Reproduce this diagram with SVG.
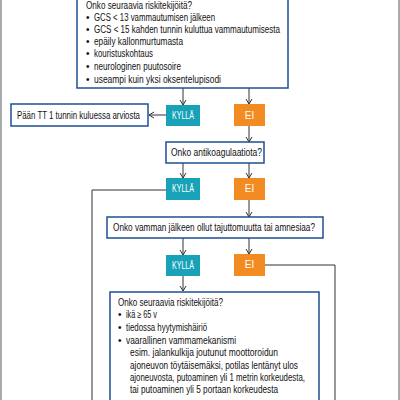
<svg xmlns="http://www.w3.org/2000/svg" width="400" height="400" viewBox="0 0 400 400">
<style>
.box{fill:#fff;stroke:#1f4f93;stroke-width:1.5}
.yes{fill:#17a2b8}
.no{fill:#f28b21}
.t{font-family:"Liberation Sans",Arial,sans-serif;font-size:10px;fill:#111}
.lbl{font-family:"Liberation Sans",Arial,sans-serif;font-size:10px;fill:#fff;text-anchor:middle}
.c{fill:none;stroke:#333;stroke-width:1}
.frame{stroke:#aaa;stroke-width:2}
</style>
<defs>
<marker id="ah" markerWidth="8" markerHeight="8" refX="6" refY="4" orient="auto" markerUnits="userSpaceOnUse">
<path d="M1,1 L6,4 L1,7" fill="none" stroke="#333" stroke-width="1"/>
</marker>
</defs>
<rect width="400" height="400" fill="#fff"/>
<line class="frame" x1="1" y1="0" x2="1" y2="400"/>
<line class="frame" x1="399" y1="0" x2="399" y2="400"/>

<g id="connectors">
<line class="c" x1="183" y1="88" x2="183" y2="105" marker-end="url(#ah)"/>
<line class="c" x1="249" y1="88" x2="249" y2="104" marker-end="url(#ah)"/>
<line class="c" x1="166" y1="115" x2="149" y2="115" marker-end="url(#ah)"/>
<line class="c" x1="249" y1="126" x2="249" y2="142" marker-end="url(#ah)"/>
<line class="c" x1="183" y1="163" x2="183" y2="178" marker-end="url(#ah)"/>
<line class="c" x1="249" y1="163" x2="249" y2="178" marker-end="url(#ah)"/>
<polyline class="c" points="166,190 92,190 92,400"/>
<line class="c" x1="249" y1="200" x2="249" y2="217" marker-end="url(#ah)"/>
<line class="c" x1="183" y1="238" x2="183" y2="255" marker-end="url(#ah)"/>
<line class="c" x1="249" y1="238" x2="249" y2="254" marker-end="url(#ah)"/>
<polyline class="c" points="265,265 335,265 335,400"/>
<line class="c" x1="183" y1="276" x2="183" y2="291" marker-end="url(#ah)"/>
</g>

<g id="risk1">
<rect class="box" x="77" y="-5" width="211" height="93"/>
<text class="t" x="86" y="9" textLength="106" lengthAdjust="spacingAndGlyphs">Onko seuraavia riskitekijöitä?</text>
<text class="t" x="86" y="21">•</text><text class="t" x="94" y="21" textLength="121" lengthAdjust="spacingAndGlyphs">GCS &lt; 13 vammautumisen jälkeen</text>
<text class="t" x="86" y="33">•</text><text class="t" x="94" y="33" textLength="186" lengthAdjust="spacingAndGlyphs">GCS &lt; 15 kahden tunnin kuluttua vammautumisesta</text>
<text class="t" x="86" y="45">•</text><text class="t" x="94" y="45" textLength="89" lengthAdjust="spacingAndGlyphs">epäily kallonmurtumasta</text>
<text class="t" x="86" y="57">•</text><text class="t" x="94" y="57" textLength="59" lengthAdjust="spacingAndGlyphs">kouristuskohtaus</text>
<text class="t" x="86" y="70">•</text><text class="t" x="94" y="70" textLength="87" lengthAdjust="spacingAndGlyphs">neurologinen puutosoire</text>
<text class="t" x="86" y="83">•</text><text class="t" x="94" y="83" textLength="127" lengthAdjust="spacingAndGlyphs">useampi kuin yksi oksentelupisodi</text>
</g>

<g id="yes1"><rect class="yes" x="166" y="105" width="34" height="21"/><text class="lbl" x="183" y="119" textLength="22" lengthAdjust="spacingAndGlyphs">KYLLÄ</text></g>
<g id="no1"><rect class="no" x="234" y="104" width="31" height="22"/><text class="lbl" x="249.5" y="119">EI</text></g>
<g id="ct"><rect class="box" x="11" y="104" width="137" height="22"/><text class="t" x="17" y="119" textLength="123" lengthAdjust="spacingAndGlyphs">Pään TT 1 tunnin kuluessa arviosta</text></g>

<g id="anticoag"><rect class="box" x="166" y="142" width="98" height="21"/><text class="t" x="171" y="156" textLength="91" lengthAdjust="spacingAndGlyphs">Onko antikoagulaatiota?</text></g>

<g id="yes2"><rect class="yes" x="166" y="178" width="34" height="22"/><text class="lbl" x="183" y="192" textLength="22" lengthAdjust="spacingAndGlyphs">KYLLÄ</text></g>
<g id="no2"><rect class="no" x="234" y="178" width="31" height="22"/><text class="lbl" x="249.5" y="192">EI</text></g>

<g id="unconscious"><rect class="box" x="107" y="217" width="216" height="21"/><text class="t" x="113" y="231" textLength="202" lengthAdjust="spacingAndGlyphs">Onko vamman jälkeen ollut tajuttomuutta tai amnesiaa?</text></g>

<g id="yes3"><rect class="yes" x="166" y="255" width="34" height="21"/><text class="lbl" x="183" y="269" textLength="22" lengthAdjust="spacingAndGlyphs">KYLLÄ</text></g>
<g id="no3"><rect class="no" x="234" y="254" width="31" height="22"/><text class="lbl" x="249.5" y="268">EI</text></g>

<g id="risk2">
<rect class="box" x="110" y="292" width="209" height="120"/>
<text class="t" x="118" y="306" textLength="105" lengthAdjust="spacingAndGlyphs">Onko seuraavia riskitekijöitä?</text>
<text class="t" x="118" y="318">•</text><text class="t" x="126" y="318" textLength="31" lengthAdjust="spacingAndGlyphs">ikä ≥ 65 v</text>
<text class="t" x="118" y="331">•</text><text class="t" x="126" y="331" textLength="81" lengthAdjust="spacingAndGlyphs">tiedossa hyytymishäiriö</text>
<text class="t" x="118" y="344">•</text><text class="t" x="126" y="344" textLength="110" lengthAdjust="spacingAndGlyphs">vaarallinen vammamekanismi</text>
<text class="t" x="130" y="356" textLength="148" lengthAdjust="spacingAndGlyphs">esim. jalankulkija joutunut moottoroidun</text>
<text class="t" x="130" y="369" textLength="168" lengthAdjust="spacingAndGlyphs">ajoneuvon töytäisemäksi, potilas lentänyt ulos</text>
<text class="t" x="130" y="381" textLength="175" lengthAdjust="spacingAndGlyphs">ajoneuvosta, putoaminen yli 1 metrin korkeudesta,</text>
<text class="t" x="130" y="393" textLength="148" lengthAdjust="spacingAndGlyphs">tai putoaminen yli 5 portaan korkeudesta</text>
</g>
</svg>
